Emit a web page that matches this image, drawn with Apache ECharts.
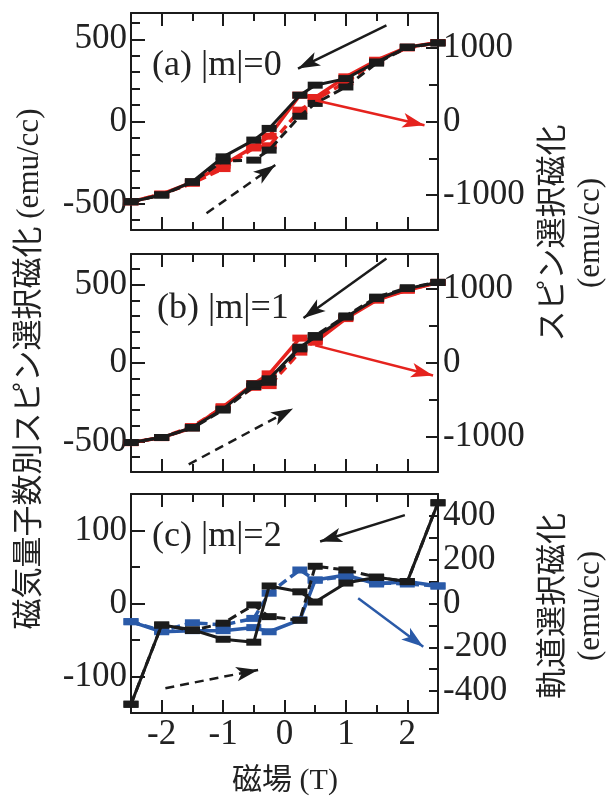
<!DOCTYPE html>
<html>
<head>
<meta charset="utf-8">
<script src="https://cdn.jsdelivr.net/npm/echarts@6/dist/echarts.min.js"></script>
<style>
  html, body { margin: 0; padding: 0; background: #ffffff; }
  #chart { width: 613px; height: 799px; }
</style>
</head>
<body>
<div id="chart"></div>
<script>
// Applied field (T), shared by every sweep
const field = [-2.5, -2, -1.5, -1, -0.5, -0.25, 0.25, 0.5, 1, 1.5, 2, 2.5];

// (a) |m|=0 : magnetic-quantum-number resolved spin magnetization (left axis)
const m0Down = [-488, -447, -366, -215, -113, -42, 160, 221, 261, 362, 453, 478];
const m0Up   = [-488, -447, -370, -240, -235, -174, 32, 110, 210, 355, 450, 478];
// (a) spin-selective magnetization (right axis)
const spin0Down = [-1091, -988, -823, -593, -344, -200, 358, 326, 607, 833, 1010, 1073];
const spin0Up   = [-1091, -988, -840, -640, -360, -330, 154, 290, 539, 820, 1000, 1073];

// (b) |m|=1
const m1Down = [-507, -475, -411, -294, -133, -101, 101, 165, 293, 411, 475, 514];
const m1Up   = [-507, -475, -415, -300, -150, -123, 90, 175, 300, 420, 480, 514];
const spin1Down = [-1077, -1009, -877, -592, -279, -147, 337, 282, 601, 850, 985, 1090];
const spin1Up   = [-1077, -1009, -860, -600, -329, -306, 147, 306, 620, 860, 990, 1090];

// (c) |m|=2
const m2Down = [-138, -29.5, -36, -49, -53, 24, 16, 2, 28, 36, 30, 138];
const m2Up   = [-138, -29.5, -37, -27, -2, -18, -23, 51, 46, 36, 30, 138];
// (c) orbital-selective magnetization (right axis)
const orbDown = [-83, -129, -124, -124, -110, -129, -75, 107, 130, 89, 100, 80];
const orbUp   = [-83, -125, -88, -98, -68, 47, 153, 107, 122, 95, 89, 80];

// Tick values
const fieldMajor = [-2, -1, 0, 1, 2];
const fieldMinor = [-1.5, -0.5, 0.5, 1.5];
const spinLeftMajor = [-500, 0, 500];
const spinLeftMinor = [-600, -400, -300, -200, -100, 100, 200, 300, 400, 600];
const spinRightMajor = [-1000, 0, 1000];
const spinRightMinor = [-500, 500];
const m2LeftMajor = [-100, 0, 100];
const m2LeftMinor = [-50, 50];
const orbRightLabels = [-400, -200, 0, 200, 400];
const orbRightMinor = [-300, -100, 100, 300];

const BLACK = '#1b1b1b';
const RED = '#e5231e';
const BLUE = '#2a5aa8';
const SERIF = '"Liberation Serif", "Times New Roman", "Noto Sans CJK JP", serif';
const TICK_FONT = 35;
const plain = v => String(v);

const grids = [
  { left: 131, right: 175, top: 13, height: 217 },
  { left: 131, right: 175, top: 254, height: 218 },
  { left: 131, right: 175, top: 494, height: 219 }
];

// left range, right range per panel
const ranges = [
  { l: 660, r: 1475 },
  { l: 695, r: 1475 },
  { l: 150, r: 500 }
];

const tickStyle = { color: BLACK, width: 2 };
const xAxes = [];
const yAxes = [];
grids.forEach((g, gi) => {
  const base = { type: 'value', gridIndex: gi, min: -2.5, max: 2.5, splitLine: { show: false } };
  const line = { show: true, onZero: false, lineStyle: { color: BLACK, width: 2 } };
  const noLine = { show: false, onZero: false };
  xAxes.push(Object.assign({}, base, {
    position: 'bottom', axisLine: line,
    axisTick: { show: true, inside: true, length: 13, customValues: fieldMajor, lineStyle: tickStyle },
    axisLabel: gi === 2
      ? { show: true, customValues: fieldMajor, formatter: plain, margin: 4, color: '#222', fontFamily: SERIF, fontSize: TICK_FONT }
      : { show: false }
  }));
  xAxes.push(Object.assign({}, base, {
    position: 'bottom', axisLine: noLine,
    axisTick: { show: true, inside: true, length: 8, customValues: fieldMinor, lineStyle: tickStyle },
    axisLabel: { show: false }
  }));
  xAxes.push(Object.assign({}, base, {
    position: 'top', axisLine: line,
    axisTick: { show: true, inside: true, length: 13, customValues: fieldMajor, lineStyle: tickStyle },
    axisLabel: { show: false }
  }));
  xAxes.push(Object.assign({}, base, {
    position: 'top', axisLine: noLine,
    axisTick: { show: true, inside: true, length: 8, customValues: fieldMinor, lineStyle: tickStyle },
    axisLabel: { show: false }
  }));

  const r = ranges[gi];
  const lMajor = gi === 2 ? m2LeftMajor : spinLeftMajor;
  const lMinor = gi === 2 ? m2LeftMinor : spinLeftMinor;
  const rLabels = gi === 2 ? orbRightLabels : spinRightMajor;
  const rMinor = gi === 2 ? orbRightMinor : spinRightMinor;
  const yb = { type: 'value', gridIndex: gi, splitLine: { show: false } };
  yAxes.push(Object.assign({}, yb, {
    position: 'left', min: -r.l, max: r.l, axisLine: line,
    axisTick: { show: true, inside: true, length: 14, customValues: lMajor, lineStyle: tickStyle },
    axisLabel: { show: true, customValues: lMajor, formatter: plain, margin: 4, color: '#222', fontFamily: SERIF, fontSize: TICK_FONT }
  }));
  yAxes.push(Object.assign({}, yb, {
    position: 'left', min: -r.l, max: r.l, axisLine: noLine,
    axisTick: { show: true, inside: true, length: 9, customValues: lMinor, lineStyle: tickStyle },
    axisLabel: { show: false }
  }));
  yAxes.push(Object.assign({}, yb, {
    position: 'right', min: -r.r, max: r.r, axisLine: line,
    axisTick: { show: true, inside: true, length: gi === 2 ? 9 : 12, customValues: rLabels, lineStyle: tickStyle },
    axisLabel: { show: true, customValues: rLabels, formatter: plain, margin: 5, color: '#222', fontFamily: SERIF, fontSize: TICK_FONT }
  }));
  yAxes.push(Object.assign({}, yb, {
    position: 'right', min: -r.r, max: r.r, axisLine: noLine,
    axisTick: { show: true, inside: true, length: 9, customValues: rMinor, lineStyle: tickStyle },
    axisLabel: { show: false }
  }));
});

function pairs(ys) { return field.map((x, i) => [x, ys[i]]); }

function arrow(from, to, color, dashed) {
  return {
    silent: true,
    symbol: ['none', 'arrow'],
    symbolSize: [11, 22],
    label: { show: false },
    lineStyle: { color: color, width: 2.5, type: dashed ? [9, 6] : 'solid' },
    data: [[{ coord: from }, { coord: to }]]
  };
}

function sweep(gi, side, ys, color, dashed, mark) {
  const s = {
    type: 'line',
    xAxisIndex: gi * 4,
    yAxisIndex: gi * 4 + (side === 'right' ? 2 : 0),
    data: pairs(ys),
    symbol: 'rect',
    symbolSize: [15, 7],
    showAllSymbol: true,
    lineStyle: { color: color, width: color === BLACK ? 3 : 3.5, type: dashed ? [9, 5] : 'solid' },
    itemStyle: { color: color },
    z: color === BLACK ? 4 : 3
  };
  if (mark) s.markLine = mark;
  return s;
}

const series = [
  // (a)
  sweep(0, 'right', spin0Up, RED, true),
  sweep(0, 'right', spin0Down, RED, false, arrow([0.5, 290], [2.28, -50], RED, false)),
  sweep(0, 'left', m0Up, BLACK, true, arrow([-1.27, -558], [-0.15, -265], BLACK, true)),
  sweep(0, 'left', m0Down, BLACK, false, arrow([1.66, 585], [0.22, 322], BLACK, false)),
  // (b)
  sweep(1, 'right', spin1Up, RED, true),
  sweep(1, 'right', spin1Down, RED, false, arrow([0.5, 238], [2.42, -170], RED, false)),
  sweep(1, 'left', m1Up, BLACK, true, arrow([-1.56, -646], [0.14, -290], BLACK, true)),
  sweep(1, 'left', m1Down, BLACK, false, arrow([1.66, 667], [0.31, 287], BLACK, false)),
  // (c)
  sweep(2, 'right', orbUp, BLUE, true),
  sweep(2, 'right', orbDown, BLUE, false, arrow([1.2, 24], [2.26, -197], BLUE, false)),
  sweep(2, 'left', m2Up, BLACK, true, arrow([-1.94, -116], [-0.43, -91], BLACK, true)),
  sweep(2, 'left', m2Down, BLACK, false, arrow([1.96, 121], [0.58, 85], BLACK, false))
];

function label(text, x, y, size, rot, lh) {
  return {
    type: 'text', x: x, y: y, rotation: rot || 0, silent: true, z: 10,
    style: {
      text: text, fill: '#222', font: size + 'px ' + SERIF,
      fontSize: size, fontFamily: SERIF,
      align: rot ? 'center' : 'left', verticalAlign: 'middle',
      textAlign: rot ? 'center' : 'left', textVerticalAlign: 'middle',
      lineHeight: lh || size * 1.2
    }
  };
}

const graphic = [
  label('(a) |m|=0', 152, 66, 36),
  label('(b) |m|=1', 157, 309, 36),
  label('(c) |m|=2', 152, 537, 36),
  label('磁気量子数別スピン選択磁化 (emu/cc)', 30, 369, 31, Math.PI / 2),
  label('スピン選択磁化\n(emu/cc)', 572, 233, 31, Math.PI / 2, 37),
  label('軌道選択磁化\n(emu/cc)', 572, 606, 31, Math.PI / 2, 37),
  {
    type: 'text', x: 285, y: 781, silent: true,
    style: { text: '磁場 (T)', fill: '#222', font: '30px ' + SERIF, fontSize: 30, fontFamily: SERIF,
      align: 'center', verticalAlign: 'middle', textAlign: 'center', textVerticalAlign: 'middle' }
  }
];

const chart = echarts.init(document.getElementById('chart'), null, { renderer: 'canvas' });
chart.setOption({
  animation: false,
  backgroundColor: '#ffffff',
  grid: grids,
  xAxis: xAxes,
  yAxis: yAxes,
  series: series,
  graphic: graphic
});
</script>
</body>
</html>
